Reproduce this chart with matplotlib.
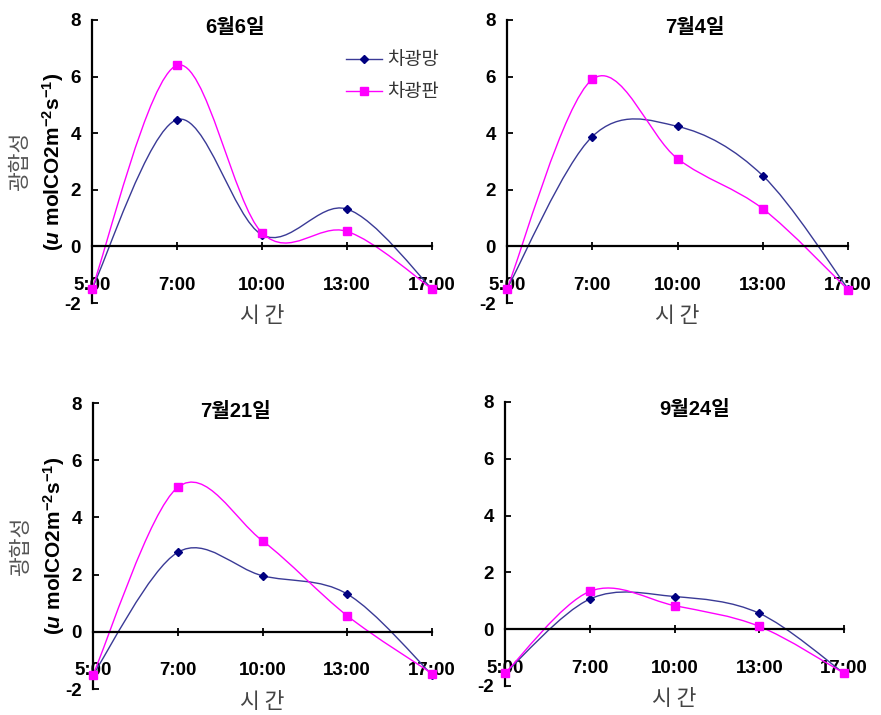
import matplotlib
matplotlib.use('Agg')
import matplotlib.pyplot as plt
from matplotlib.path import Path
from matplotlib.patches import PathPatch
from matplotlib.lines import Line2D

plt.rcParams['axes.unicode_minus'] = False
plt.rcParams['mathtext.fontset'] = 'custom'
plt.rcParams['mathtext.rm'] = 'Liberation Sans:bold'
plt.rcParams['mathtext.it'] = 'Liberation Sans:italic:bold'
plt.rcParams['mathtext.bf'] = 'Liberation Sans:bold'

# 데이터
horas = ['5:00', '7:00', '10:00', '13:00', '17:00']
titulos = ['6월6일', '7월4일', '7월21일', '9월24일']
series_nomes = ['차광망', '차광판']

mang_0606 = [-1.5, 4.48, 0.41, 1.32, -1.5]
pan_0606 = [-1.5, 6.4, 0.48, 0.53, -1.5]
mang_0704 = [-1.5, 3.88, 4.24, 2.5, -1.5]
pan_0704 = [-1.5, 5.9, 3.1, 1.33, -1.53]
mang_0721 = [-1.5, 2.78, 1.96, 1.32, -1.5]
pan_0721 = [-1.5, 5.05, 3.18, 0.56, -1.46]
mang_0924 = [-1.55, 1.06, 1.15, 0.56, -1.55]
pan_0924 = [-1.55, 1.33, 0.83, 0.1, -1.55]

cor_mang = '#3a3a96'
cor_mang_mk = '#000080'
cor_pan = '#ff00ff'
fam_num = ['Liberation Sans', 'Noto Sans CJK KR']
fam_kr = ['Noto Sans CJK KR', 'DejaVu Sans']


def caminho_suave(x, y):
    # curva suavizada estilo Excel (Catmull-Rom em Bezier cubica)
    verts = [(x[0], y[0])]
    codes = [Path.MOVETO]
    n = len(x)
    for i in range(n - 1):
        i0 = max(i - 1, 0)
        i3 = min(i + 2, n - 1)
        c1 = (x[i] + (x[i + 1] - x[i0]) / 6, y[i] + (y[i + 1] - y[i0]) / 6)
        c2 = (x[i + 1] - (x[i3] - x[i]) / 6, y[i + 1] - (y[i3] - y[i]) / 6)
        verts += [c1, c2, (x[i + 1], y[i + 1])]
        codes += [Path.CURVE4] * 3
    return Path(verts, codes)


W, H = 881, 715
fig = plt.figure(figsize=(W / 100, H / 100), dpi=100)


def painel(px, titulo, tx, y_mang, y_pan, ylabel=False, legenda=False):
    l, r, t, b = px
    ax = fig.add_axes([l / W, 1 - b / H, (r - l) / W, (b - t) / H])
    x = list(range(len(horas)))
    ax.set_xlim(0, len(horas) - 1)
    ax.set_ylim(-2, 8)
    for s in ['top', 'right']:
        ax.spines[s].set_visible(False)
    ax.spines['bottom'].set_position(('data', 0))
    ax.spines['bottom'].set_linewidth(1.6)
    ax.spines['left'].set_linewidth(1.6)
    ax.set_xticks(x)
    ax.set_xticklabels(horas, fontsize=13.5, fontweight='bold', family=fam_num)
    ax.set_yticks([-2, 0, 2, 4, 6, 8])
    ax.set_yticklabels(['-2', '0', '2', '4', '6', '8'], fontsize=13.5,
                       fontweight='bold', family=fam_num)
    ax.tick_params(axis='x', direction='inout', length=6, width=1.3, pad=19)
    ax.tick_params(axis='y', direction='in', length=4, width=1.3, pad=8)

    for y, cor, cor_mk, mk, ms in [(y_mang, cor_mang, cor_mang_mk, 'D', 4.5),
                                   (y_pan, cor_pan, cor_pan, 's', 6)]:
        ax.add_patch(PathPatch(caminho_suave(x, y), facecolor='none',
                               edgecolor=cor, lw=1.0, zorder=2))
        ax.plot(x, y, linestyle='none', marker=mk, ms=ms, color=cor_mk,
                clip_on=False, zorder=3)

    ax.text(tx, 0.972, titulo, transform=ax.transAxes, ha='center', va='center',
            fontsize=14.5, fontweight='bold', family=fam_num)
    ax.text(0.5, -0.045, '시 간', transform=ax.transAxes, ha='center', va='center',
            fontsize=15.5, color='#444444', family=fam_kr)
    if ylabel:
        ax.text(-0.212, 0.5, '광합성', transform=ax.transAxes, rotation=90,
                ha='center', va='center', fontsize=15.5, color='#555555',
                family=fam_kr)
        ax.text(-0.115, 0.5, r'($\mathit{u}$ molCO2m$^{-2}$s$^{-1}$)',
                transform=ax.transAxes, rotation=90, ha='center', va='center',
                fontsize=15, fontweight='bold', family='Liberation Sans')
    if legenda:
        handles = [Line2D([], [], color=cor_mang, marker='D', ms=4.5,
                          mfc=cor_mang_mk, mec=cor_mang_mk, lw=1.0),
                   Line2D([], [], color=cor_pan, marker='s', ms=6, lw=1.0)]
        leg = ax.legend(handles, series_nomes, loc='upper left',
                        bbox_to_anchor=(0.72, 0.93), frameon=False, borderpad=0,
                        handlelength=1.9, handletextpad=0.3, labelspacing=0.6,
                        prop={'family': fam_kr, 'size': 13.5})
        for txt in leg.get_texts():
            txt.set_color('#333333')
    return ax


painel((92, 432, 20, 303), titulos[0], 0.42, mang_0606, pan_0606, ylabel=True, legenda=True)
painel((507, 848, 20, 303), titulos[1], 0.55, mang_0704, pan_0704)
painel((93, 432, 403, 689), titulos[2], 0.42, mang_0721, pan_0721, ylabel=True)
painel((505, 844, 402, 686), titulos[3], 0.56, mang_0924, pan_0924)

fig.savefig('out.png', dpi=100)
